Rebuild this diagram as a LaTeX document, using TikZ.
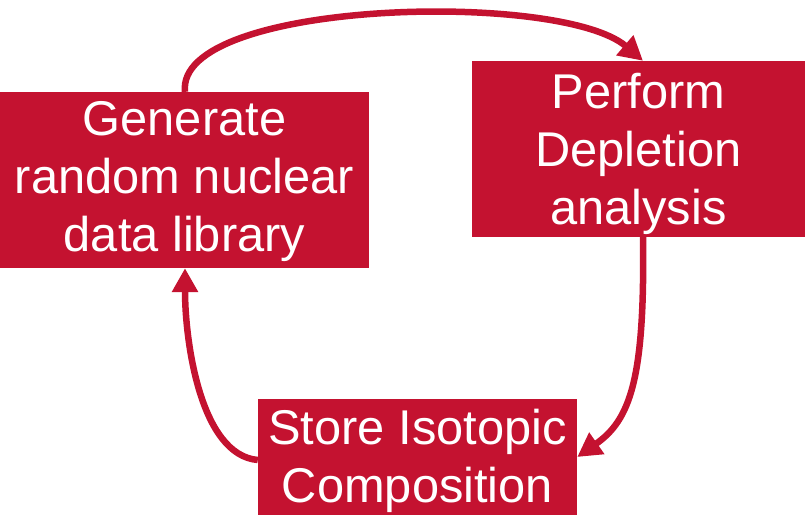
\documentclass[tikz,border=0pt]{standalone}
\usepackage{fontspec}
\setmainfont{Liberation Sans}
\usetikzlibrary{arrows.meta}
\definecolor{cardinal}{RGB}{196,18,48}
\tikzset{
  stepbox/.style={fill=cardinal, inner sep=0pt},
  steptext/.style={text=white, inner sep=0pt, align=center,
    font=\fontsize{48.8}{58}\selectfont},
  flow/.style={draw=cardinal, line width=6.5pt,
    -{Triangle[length=24pt,width=25pt]}},
}
\begin{document}
\begin{tikzpicture}[x=1pt,y=-1pt]
  \useasboundingbox (0,0) rectangle (805,514);
  % process boxes, each with its caption centred inside
  \node[stepbox, minimum width=369pt, minimum height=176pt,
    label={[steptext,yshift=-2pt]center:{Generate\\random nuclear\\data library}}]
    (gen) at (184.5,180) {};
  \node[stepbox, minimum width=333pt, minimum height=176pt,
    label={[steptext,yshift=-5pt]center:{Perform\\Depletion\\analysis}}]
    (perf) at (638.5,149) {};
  \node[stepbox, minimum width=319pt, minimum height=117pt,
    label={[steptext,yshift=-3pt]center:{Store Isotopic\\Composition}}]
    (store) at (417.5,457.5) {};
  % cycle connectors
  \coordinate (g1) at (gen.north -| 185,0);
  \coordinate (p1) at (perf.north -| 643,0);
  \coordinate (p2) at (perf.south -| 643,0);
  \coordinate (s1) at (store.east |- 0,457);
  \coordinate (s2) at (store.west |- 0,460);
  \coordinate (g2) at (gen.south -| 185,0);
  \draw[flow] (g1) .. controls (175,0) and (560,-10) .. (p1);
  \draw[flow] (p2) .. controls (645,380) and (630,420) .. (s1);
  \draw[flow] (s2) .. controls (200,455) and (185,340) .. (g2);
\end{tikzpicture}
\end{document}
